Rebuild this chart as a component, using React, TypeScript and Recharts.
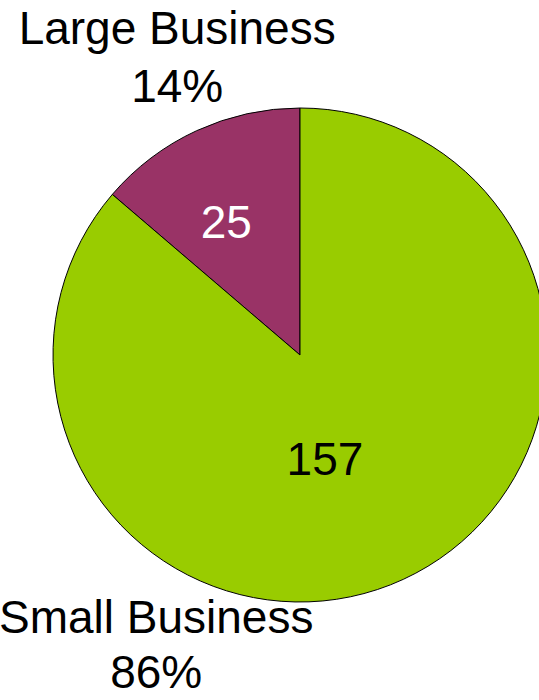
import { PieChart, Pie, Cell } from 'recharts'

const categories = ['Large Business', 'Small Business']
const values = [25, 157]
const colors = ['#993366', '#99CC00']
const valueColors = ['#FFFFFF', '#000000']

// label placement per slice: angle (deg), distance from centre, line gap
const outerPos = [{ a: 113.5, d: 308, gap: 58 }, { a: 244.9, d: 339, gap: 55 }]
const innerPos = [{ a: 119, d: 152 }, { a: 283.5, d: 107 }]

const data = categories.map((name, i) => ({ name, value: values[i] }))

const FONT = '"Liberation Sans", Arial, sans-serif'
const RAD = Math.PI / 180

function Labels(p: any) {
  const { cx, cy, index, percent, value, name } = p
  const o = outerPos[index], n = innerPos[index]
  const ox = cx + o.d * Math.cos(o.a * RAD), oy = cy - o.d * Math.sin(o.a * RAD)
  const ix = cx + n.d * Math.cos(n.a * RAD), iy = cy - n.d * Math.sin(n.a * RAD)
  return (
    <g style={{ fontFamily: FONT, fontSize: 46 }}>
      <text x={ox} y={oy} textAnchor="middle" fill="#000">
        <tspan x={ox} dy={-29}>{name}</tspan>
        <tspan x={ox} dy={o.gap}>{`${Math.round(percent * 100)}%`}</tspan>
      </text>
      <text x={ix} y={iy + 16} textAnchor="middle" fill={valueColors[index]}>{value}</text>
    </g>
  )
}

export default function App() {
  return (
    <div style={{ width: 539, height: 700, background: '#fff', overflow: 'hidden' }}>
      <style>{'body{margin:0}'}</style>
      <PieChart width={539} height={700} margin={{ top: 0, right: 0, bottom: 0, left: 0 }}>
        <Pie data={data} dataKey="value" nameKey="name" cx={300} cy={355} outerRadius={247}
          startAngle={90} endAngle={450} stroke="#000" strokeWidth={1}
          label={Labels} labelLine={false} isAnimationActive={false}>
          {data.map((d, i) => <Cell key={d.name} fill={colors[i]} />)}
        </Pie>
      </PieChart>
    </div>
  )
}
